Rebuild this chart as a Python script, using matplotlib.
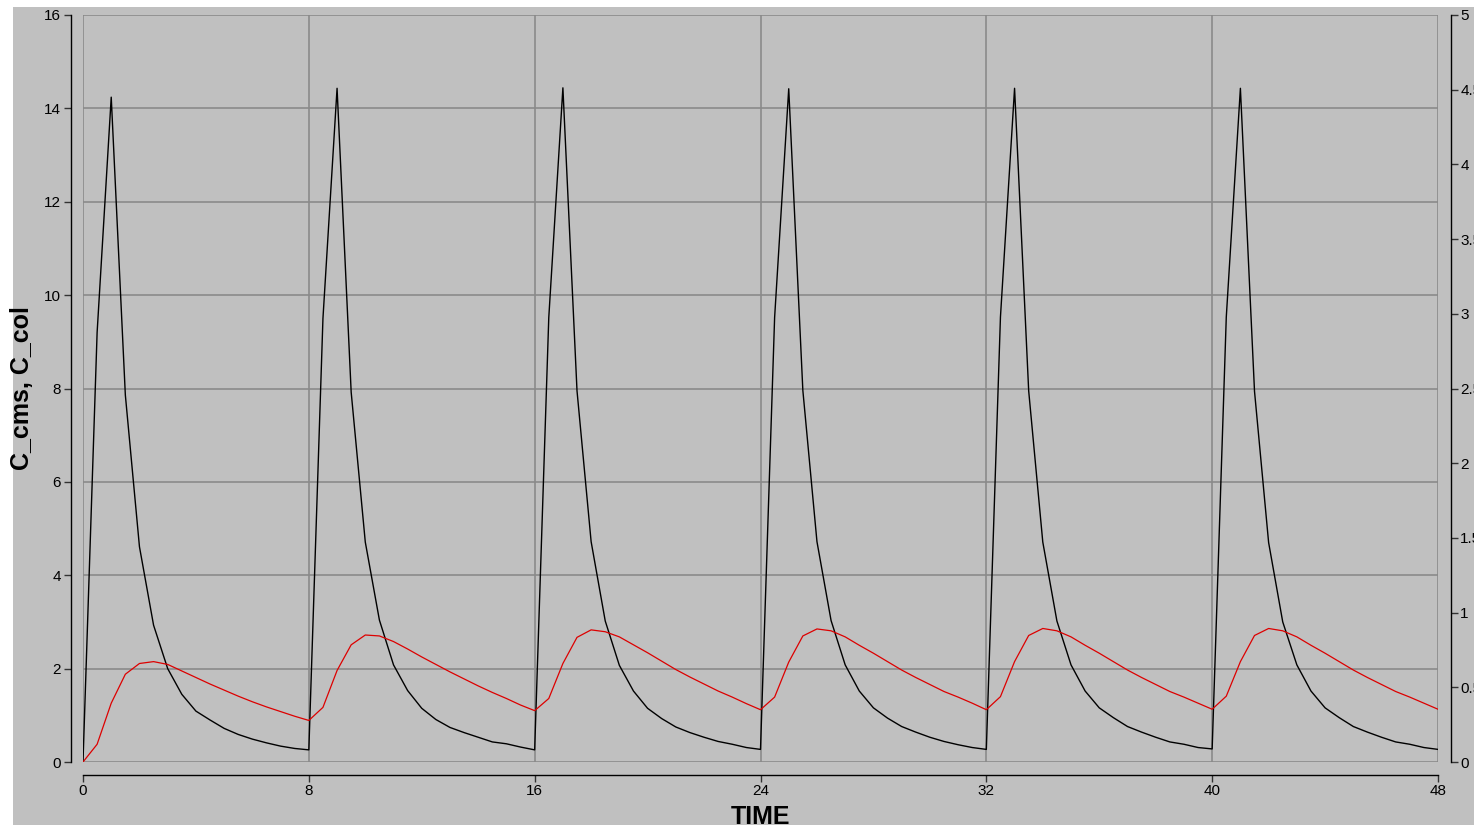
import matplotlib
matplotlib.use("Agg")
import matplotlib.pyplot as plt
from matplotlib.patches import Rectangle
from matplotlib.ticker import MultipleLocator, FormatStrFormatter

plt.rcParams['font.family'] = ['Liberation Sans', 'DejaVu Sans']

# Sampling times (h), every 0.5 h over six 8-hour dosing intervals
time_h = [
    0.0, 0.5, 1.0, 1.5, 2.0, 2.5, 3.0, 3.5, 4.0, 4.5, 5.0, 5.5, 6.0, 6.5, 7.0, 7.5,
    8.0, 8.5, 9.0, 9.5, 10.0, 10.5, 11.0, 11.5, 12.0, 12.5, 13.0, 13.5, 14.0, 14.5, 15.0, 15.5,
    16.0, 16.5, 17.0, 17.5, 18.0, 18.5, 19.0, 19.5, 20.0, 20.5, 21.0, 21.5, 22.0, 22.5, 23.0, 23.5,
    24.0, 24.5, 25.0, 25.5, 26.0, 26.5, 27.0, 27.5, 28.0, 28.5, 29.0, 29.5, 30.0, 30.5, 31.0, 31.5,
    32.0, 32.5, 33.0, 33.5, 34.0, 34.5, 35.0, 35.5, 36.0, 36.5, 37.0, 37.5, 38.0, 38.5, 39.0, 39.5,
    40.0, 40.5, 41.0, 41.5, 42.0, 42.5, 43.0, 43.5, 44.0, 44.5, 45.0, 45.5, 46.0, 46.5, 47.0, 47.5,
    48.0,
]

# Concentration in the central compartment
c_cms = [
    0.00, 9.20, 14.24, 7.86, 4.61, 2.93, 2.00, 1.45, 1.09, 0.90, 0.72, 0.59, 0.49, 0.41, 0.34, 0.29,
    0.26, 9.50, 14.43, 7.92, 4.71, 3.04, 2.08, 1.53, 1.15, 0.91, 0.74, 0.63, 0.53, 0.43, 0.39, 0.32,
    0.26, 9.52, 14.44, 7.95, 4.72, 3.02, 2.07, 1.52, 1.15, 0.93, 0.75, 0.63, 0.53, 0.44, 0.38, 0.31,
    0.27, 9.52, 14.42, 7.96, 4.72, 3.03, 2.08, 1.52, 1.16, 0.94, 0.76, 0.64, 0.53, 0.44, 0.37, 0.31,
    0.27, 9.53, 14.43, 7.95, 4.71, 3.02, 2.08, 1.52, 1.16, 0.95, 0.76, 0.64, 0.53, 0.43, 0.38, 0.31,
    0.28, 9.53, 14.43, 7.94, 4.70, 3.00, 2.08, 1.52, 1.16, 0.95, 0.76, 0.64, 0.53, 0.43, 0.38, 0.31,
    0.27,
]

# Concentration in the colon compartment
c_col = [
    0.00, 0.38, 1.26, 1.88, 2.11, 2.15, 2.09, 1.95, 1.81, 1.67, 1.54, 1.41, 1.29, 1.18, 1.08, 0.98,
    0.89, 1.17, 1.96, 2.51, 2.72, 2.70, 2.58, 2.42, 2.25, 2.09, 1.93, 1.78, 1.63, 1.49, 1.36, 1.22,
    1.10, 1.36, 2.11, 2.67, 2.83, 2.79, 2.68, 2.51, 2.34, 2.16, 1.98, 1.82, 1.67, 1.52, 1.39, 1.25,
    1.12, 1.39, 2.14, 2.70, 2.85, 2.81, 2.68, 2.50, 2.33, 2.15, 1.97, 1.81, 1.66, 1.51, 1.39, 1.26,
    1.12, 1.40, 2.15, 2.71, 2.86, 2.81, 2.68, 2.50, 2.33, 2.15, 1.97, 1.81, 1.66, 1.51, 1.39, 1.26,
    1.13, 1.41, 2.15, 2.71, 2.86, 2.81, 2.68, 2.50, 2.33, 2.15, 1.97, 1.81, 1.66, 1.51, 1.39, 1.26,
    1.13,
]

x_ticks = [0, 8, 16, 24, 32, 40, 48]
left_ticks = [0, 2, 4, 6, 8, 10, 12, 14, 16]

BG = '#c0c0c0'
GRID = '#8a8a8a'

W, H = 1474, 825
fig = plt.figure(figsize=(W / 100, H / 100), dpi=100, facecolor='white')
fig.patches.append(Rectangle((13 / W, 0), 1 - 13 / W, (H - 7) / H,
                             transform=fig.transFigure, facecolor=BG,
                             edgecolor='none', zorder=-10))

ax = fig.add_axes([83 / W, (H - 762) / H, (1438 - 83) / W, (762 - 15) / H])
ax.patch.set_visible(False)

ax.plot(time_h, c_cms, color='black', lw=1.0, zorder=3)
ax.plot(time_h, c_col, color='#dd0000', lw=0.9, zorder=3)

ax.set_xlim(0, 48)
ax.set_ylim(0, 16)
ax.set_xticks(x_ticks)
ax.set_yticks(left_ticks)
ax.grid(True, color=GRID, lw=1.2, zorder=1)
for gl in ax.get_xgridlines() + ax.get_ygridlines():
    gl.set_clip_on(False)

for side in ('top', 'right'):
    ax.spines[side].set_visible(False)
ax.spines['left'].set_position(('outward', 9))
ax.spines['bottom'].set_position(('outward', 9))
ax.spines['left'].set_bounds(0, 16)
ax.spines['bottom'].set_bounds(0, 48)
for side in ('left', 'bottom'):
    ax.spines[side].set_linewidth(1.0)
    ax.spines[side].set_color('black')

ax.tick_params(axis='both', direction='out', length=5, width=1.0,
               labelsize=11, pad=2, color='#333333')

ax.set_xlabel('TIME', fontsize=18, fontweight='bold')
ax.set_ylabel('C_cms, C_col', fontsize=18, fontweight='bold')
ax.xaxis.set_label_coords(0.5, -0.057)
ax.yaxis.set_label_coords(-0.036, 0.5)

# Secondary scale on the right
ax2 = ax.twinx()
ax2.patch.set_visible(False)
ax2.set_ylim(0, 5)
ax2.yaxis.set_major_locator(MultipleLocator(0.5))
ax2.yaxis.set_major_formatter(FormatStrFormatter('%g'))
for side in ('top', 'left', 'bottom'):
    ax2.spines[side].set_visible(False)
ax2.spines['right'].set_position(('outward', 9))
ax2.spines['right'].set_bounds(0, 5)
ax2.spines['right'].set_linewidth(1.0)
ax2.tick_params(axis='y', direction='out', length=5, width=1.0,
                labelsize=11, pad=2, color='#333333')

fig.savefig('out.png', dpi=100, facecolor='white')
